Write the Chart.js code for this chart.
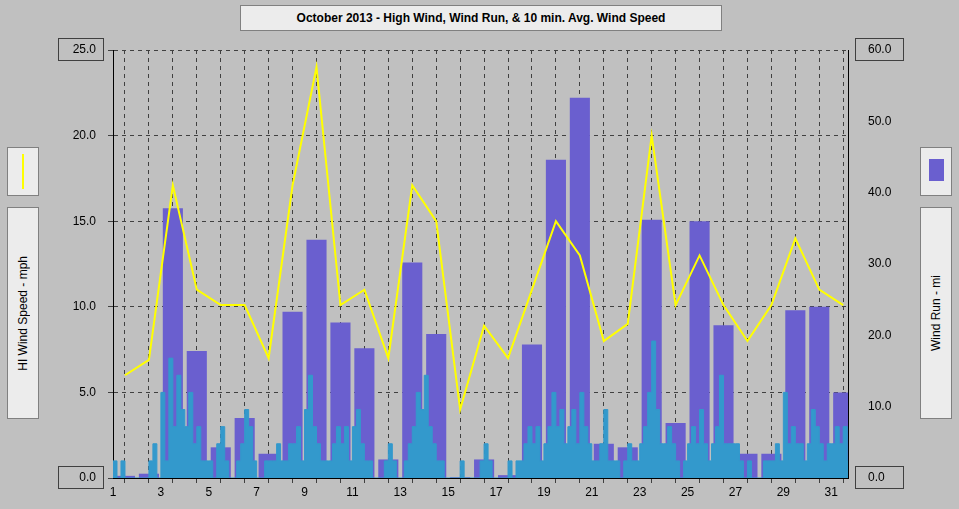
<!DOCTYPE html>
<html>
<head>
<script src="https://cdn.jsdelivr.net/npm/chart.js@4"></script>
<style>
  body { margin: 0; background: #c0c0c0; font-family: Arial, "Liberation Sans", sans-serif; }
  #wrap { position: relative; width: 959px; height: 509px; }
  canvas { position: absolute; left: 0; top: 0; }
  .box { position: absolute; background: #ececec; border: 1px solid #808080; box-sizing: border-box; font-size: 12px; color: #000; }
  .vtext { display: flex; align-items: center; justify-content: center; }
  .vtext span { writing-mode: vertical-rl; transform: rotate(180deg); }
</style>
</head>
<body>
<div id="wrap">
  <canvas id="c" width="959" height="509"></canvas>
  <div class="box" style="left:240px;top:5px;width:482px;height:26px;display:flex;align-items:center;justify-content:center;font-weight:bold;">October 2013 - High Wind, Wind Run, &amp; 10 min. Avg. Wind Speed</div>
  <div class="box" style="left:7px;top:147px;width:32px;height:49px;"><div style="position:absolute;left:14px;top:6px;width:2px;height:35px;background:#ffff00;"></div></div>
  <div class="box vtext" style="left:7px;top:207px;width:32px;height:212px;"><span>HI Wind Speed - mph</span></div>
  <div class="box" style="left:920px;top:147px;width:32px;height:49px;"><div style="position:absolute;left:8px;top:11px;width:15px;height:22px;background:#6a5fcf;"></div></div>
  <div class="box vtext" style="left:920px;top:207px;width:32px;height:212px;"><span>Wind Run - mi</span></div>
</div>
<script>
const days = Array.from({length: 31}, (_, i) => i + 1);

// daily wind run (mi)
const windRun = [0.3, 0.6, 37.8, 17.8, 4.3, 8.4, 3.4, 23.3, 33.4, 21.8, 18.2, 2.6, 30.2, 20.2, 0.1, 2.6,
  0.4, 18.7, 44.6, 53.3, 4.8, 4.3, 36.2, 7.7, 36.0, 21.4, 3.4, 3.4, 23.5, 24.0, 12.0];

// daily high wind (mph)
const hiWind = [6.0, 6.9, 17.1, 11.0, 10.1, 10.1, 7.0, 17.1, 24.0, 10.1, 11.0, 7.0, 17.1, 15.0, 4.0, 8.9,
  7.0, 11.0, 15.0, 13.0, 8.0, 9.0, 20.0, 10.1, 13.0, 10.1, 8.0, 10.1, 14.0, 11.0, 10.1];

// 10 min avg wind speed (mph), 6 samples per day
const avgWind = [
  1,0,1,0,0,0,  0,0,0,1,2,0,  5,1,7,3,6,4,  3,5,2,3,1,1,  1,0,2,3,1,0,
  0,1,2,4,3,1,  0,0,1,1,1,2,  1,1,2,2,3,1,  4,6,3,2,1,1,  1,2,3,2,3,1,
  3,4,2,1,1,0,  0,0,1,2,1,0,  0,1,2,3,5,4,  6,3,2,1,1,0,  0,0,0,1,0,0,
  0,0,1,2,1,0,  0,0,0,1,0,1,  1,2,3,2,3,1,  2,3,5,3,4,2,  3,4,2,5,3,2,
  1,1,2,4,1,1,  1,0,1,2,1,1,  2,3,5,8,4,2,  2,3,2,1,0,1,  2,3,2,4,2,1,
  2,3,6,2,2,2,  2,1,0,1,0,0,  0,1,1,1,2,1,  5,2,3,2,2,1,  2,4,3,2,1,2,
  2,3,2,3,1,0
];

const runPts = days.map((d, i) => ({x: d + 0.5, y: windRun[i]}));
const hiPts = days.map((d, i) => ({x: d + 0.5, y: hiWind[i]}));
const avgPts = avgWind.map((v, i) => ({x: 1 + i / 6, y: v}));

const boxedTicks = {
  id: 'boxedTicks',
  afterDraw(chart) {
    const {ctx, scales: {y, y2}} = chart;
    ctx.save();
    ctx.strokeStyle = '#404040';
    [[y, 25], [y, 0]].forEach(([s, v]) => {
      const py = s.getPixelForValue(v);
      ctx.strokeRect(58.5, py - 11.5, 45, 22);
    });
    [[y2, 60], [y2, 0]].forEach(([s, v]) => {
      const py = s.getPixelForValue(v);
      ctx.strokeRect(855.5, py - 11.5, 48, 22);
    });
    ctx.restore();
  }
};

Chart.defaults.font.family = 'Arial, "Liberation Sans", sans-serif';
Chart.defaults.font.size = 12;
Chart.defaults.color = '#000';

new Chart(document.getElementById('c'), {
  data: {
    datasets: [
      {type: 'line', data: hiPts, borderColor: '#ffff00', borderWidth: 2, pointRadius: 0, tension: 0, yAxisID: 'y', order: 0},
      {type: 'line', data: avgPts, borderColor: '#3399cc', backgroundColor: '#3399cc', borderWidth: 1, stepped: true, fill: 'origin', pointRadius: 0, yAxisID: 'y', order: 1},
      {type: 'bar', data: runPts, backgroundColor: '#6a5fcf', barPercentage: 0.84, categoryPercentage: 1, yAxisID: 'y2', order: 2}
    ]
  },
  options: {
    responsive: false,
    animation: false,
    layout: {padding: {top: 50, left: 0, right: 0, bottom: 0}},
    plugins: {legend: {display: false}, tooltip: {enabled: false}},
    scales: {
      x: {
        type: 'linear', min: 1, max: 31.7, offset: false,
        afterFit: s => { s.height = 31; },
        afterBuildTicks: s => { s.ticks = days.map(d => ({value: d})); },
        ticks: {autoSkip: false, maxRotation: 0, padding: 2,
          callback: v => (v % 2 === 1 ? String(v) : '')},
        grid: {color: '#404040', tickLength: 5, lineWidth: 1},
        border: {color: '#000', dash: [4, 4]}
      },
      y: {
        position: 'left', min: 0, max: 25,
        afterFit: s => { s.width = 113; },
        ticks: {stepSize: 5, padding: 12, callback: v => v.toFixed(1)},
        grid: {color: '#404040', tickLength: 5},
        border: {color: '#000', dash: [4, 4]}
      },
      y2: {
        position: 'right', min: 0, max: 60,
        afterFit: s => { s.width = 111; },
        ticks: {stepSize: 10, padding: 12, callback: v => v.toFixed(1)},
        grid: {display: false},
        border: {color: '#000'}
      }
    }
  },
  plugins: [boxedTicks]
});
</script>
</body>
</html>
